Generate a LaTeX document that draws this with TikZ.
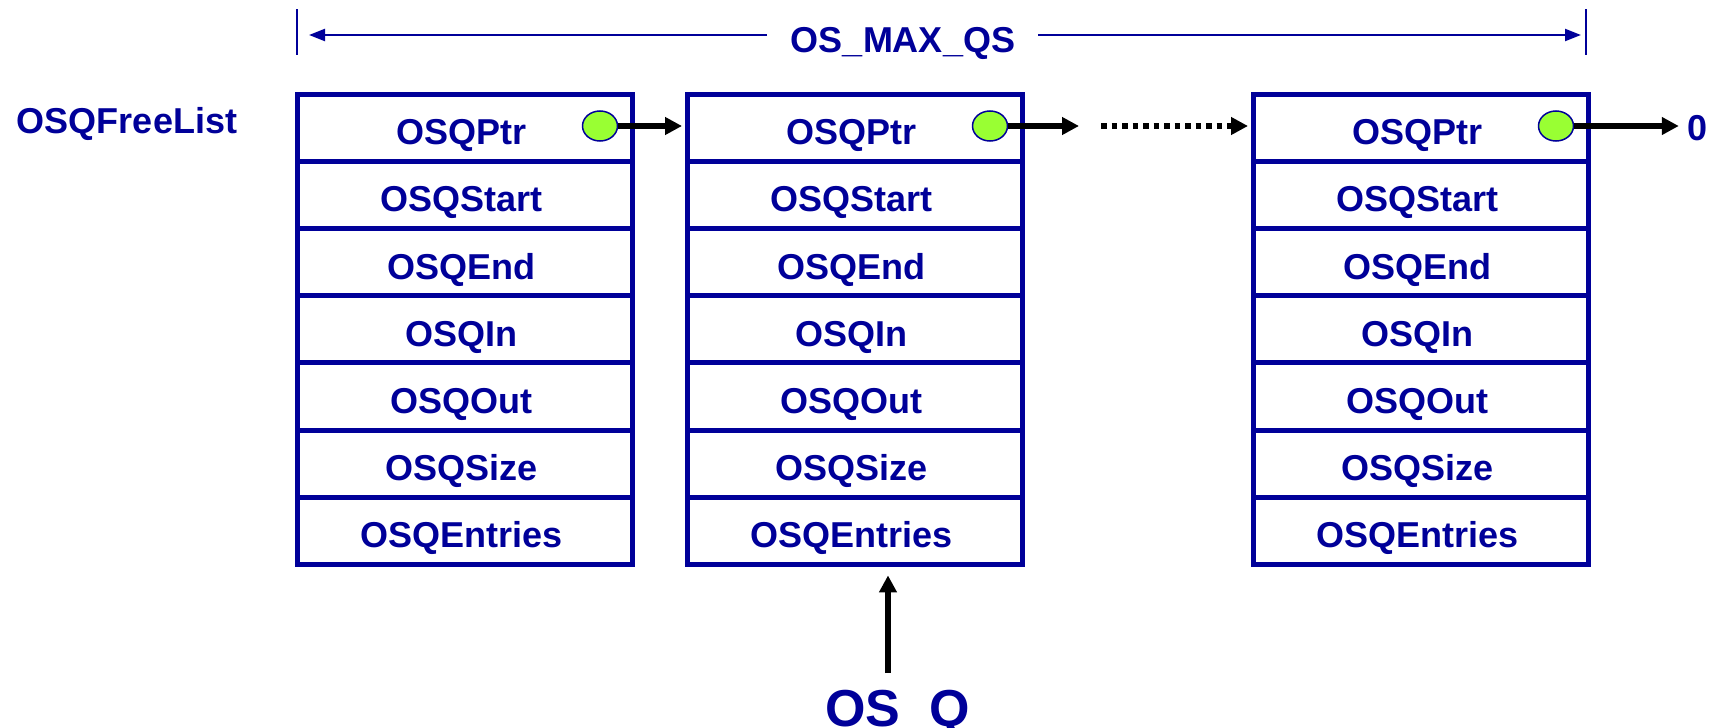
\documentclass[tikz,border=0pt]{standalone}
\usepackage{fontspec}
\setmainfont{Liberation Sans}
\usetikzlibrary{arrows.meta,shapes.geometric}
\definecolor{qnavy}{HTML}{000099}
\definecolor{qgreen}{HTML}{99FF33}
\tikzset{
  field/.style={draw=qnavy, line width=5pt, rectangle, minimum width=335pt,
    minimum height=67.2pt, inner sep=0pt},
  lbl/.style={text=qnavy, font=\fontsize{36}{40}\selectfont\bfseries,
    inner sep=0pt, anchor=base},
  dot/.style={ellipse, draw=qnavy, line width=1.5pt, fill=qgreen,
    minimum width=35pt, minimum height=30pt, inner sep=0pt},
  ptr/.style={draw=black, line width=5.5pt,
    -{Triangle[length=17pt,width=17pt]}},
  dimline/.style={draw=qnavy, line width=2.2pt,
    -{Triangle[length=16pt,width=12pt]}},
  tick/.style={draw=qnavy, line width=2pt}
}
\begin{document}
\begin{tikzpicture}[x=1pt,y=1pt]
  \useasboundingbox (0,0) rectangle (1717,-728);

  % size marker spanning the queue control blocks
  \coordinate (tlTop) at (297,-9);
  \coordinate (tlBot) at (297,-55);
  \coordinate (trTop) at (1586,-9);
  \coordinate (trBot) at (1586,-55);
  \draw[tick] (tlTop) -- (tlBot);
  \draw[tick] (trTop) -- (trBot);
  \coordinate (dimL) at (309,-35);
  \coordinate (dimR) at (1581,-35);
  \node[text=qnavy, font=\fontsize{36}{40}\selectfont\bfseries,
        inner sep=0pt, anchor=base] (maxqs) at (903,-52) {OS\_MAX\_QS};
  \coordinate (dimTL) at (767,-35);
  \coordinate (dimTR) at (1038,-35);
  \draw[dimline] (dimTL) -- (dimL);
  \draw[dimline] (dimTR) -- (dimR);

  % free list head
  \node[lbl] (freelist) at (127,-133) {OSQFreeList};

  % the three OS_Q blocks
  \foreach \bx/\bn in {297/1, 687/2, 1253/3}{
    \foreach \lab [count=\r] in {OSQPtr,OSQStart,OSQEnd,OSQIn,OSQOut,OSQSize,OSQEntries}{
      \node[field] (b\bn r\r) at ({\bx+167.5},{-94-67.2*(\r-0.5)}) {};
      \node[lbl] (t\bn r\r) at ({\bx+164.5},{-94-67.2*(\r-0.5)-17}) {\lab};
    }
    \node[dot] (c\bn) at ({\bx+335-32},-126) {};
  }

  % links between blocks
  \draw[ptr] (c1.east) -- ([xshift=-2.5pt]b2r1.west |- c1.east);
  \coordinate (gapA) at (1079,-126);
  \draw[ptr] (c2.east) -- (gapA);
  \coordinate (gapB) at (1101,-126);
  \draw[ptr, dash pattern=on 5.5pt off 5pt] (gapB) -- ([xshift=-2.5pt]b3r1.west |- gapB);
  \node[lbl] (nil) at (1697.5,-140) {0};
  \draw[ptr] (c3.east) -- ([xshift=-8.5pt]nil.west |- c3.east);

  % pointer to an OS_Q
  \node[text=qnavy, font=\fontsize{52}{56}\selectfont\bfseries,
        inner sep=0pt, anchor=base] (osq) at (897.5,-726) {OS\_Q};
  \coordinate (qtail) at (888,-673);
  \draw[ptr] (qtail) -- ([yshift=-8.5pt]b2r7.south -| qtail);
\end{tikzpicture}
\end{document}
